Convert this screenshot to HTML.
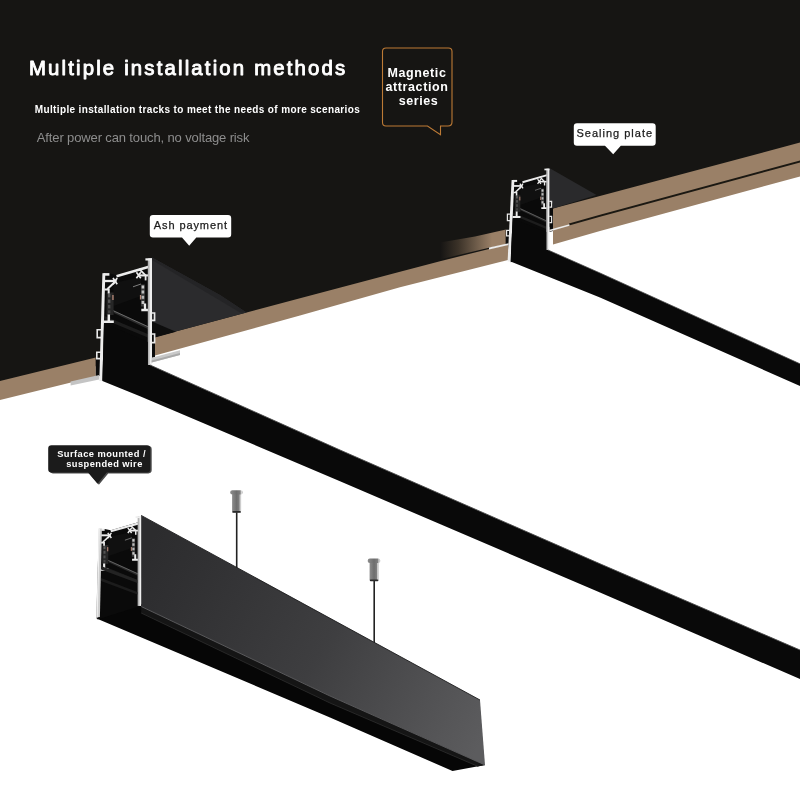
<!DOCTYPE html>
<html lang="en">
<head>
<meta charset="utf-8">
<title>Multiple installation methods</title>
<style>
html,body{margin:0;padding:0;background:#fff;}
body{width:800px;height:800px;overflow:hidden;position:relative;font-family:"Liberation Sans","DejaVu Sans",sans-serif;}
svg{position:absolute;left:0;top:0;display:block;will-change:transform;}
text{font-family:"Liberation Sans","DejaVu Sans",sans-serif;}
</style>
</head>
<body>
<svg width="800" height="800" viewBox="0 0 800 800">
<defs>
  <linearGradient id="gGroove" gradientUnits="userSpaceOnUse" x1="440" y1="0" x2="492" y2="0">
    <stop offset="0" stop-color="#151413"/>
    <stop offset="0.35" stop-color="#3b3228"/>
    <stop offset="1" stop-color="#9a8067"/>
  </linearGradient>
  <linearGradient id="gFace3" gradientUnits="userSpaceOnUse" x1="141" y1="560" x2="485" y2="735">
    <stop offset="0" stop-color="#2c2c2e"/>
    <stop offset="0.13" stop-color="#303032"/>
    <stop offset="0.52" stop-color="#3e3e40"/>
    <stop offset="0.9" stop-color="#565658"/>
    <stop offset="1" stop-color="#5c5c5e"/>
  </linearGradient>
  <linearGradient id="gHang" x1="0" y1="0" x2="1" y2="0">
    <stop offset="0" stop-color="#8c8c8c"/>
    <stop offset="0.5" stop-color="#6e6e6e"/>
    <stop offset="0.78" stop-color="#7e7e7e"/>
    <stop offset="0.9" stop-color="#d8d8d8"/>
    <stop offset="1" stop-color="#b8b8b8"/>
  </linearGradient>

  <!-- aluminium track cross-section, drawn in track-1 coordinates -->
  <g id="prof">
    <!-- interior -->
    <polygon points="103.8,273.4 109.4,273.4 116.5,275 148.4,265.6 148.4,259 151,259 151,365 101,381" fill="#0a0a0a"/>
    <!-- subtle interior bands -->
    <polygon points="113.5,283 141,277 141,296 113.5,306" fill="#101010"/>
    <polygon points="113.8,310.4 147.8,326.2 147.8,329 113.8,313" fill="#2a2a2a"/>
    <polygon points="104.5,316 147.8,334 147.8,337.5 104.5,319.5" fill="#1d1d1d"/>
    <line x1="113" y1="310.6" x2="147.8" y2="326.6" stroke="#8a8a8a" stroke-width="0.7"/>
    <!-- left inner rail -->
    <rect x="106.6" y="292.5" width="7" height="22.5" fill="#262626"/>
    <rect x="108" y="294" width="2.4" height="3.4" fill="#5b5b5b"/>
    <rect x="108" y="299.5" width="2.4" height="3.4" fill="#555"/>
    <rect x="108" y="305" width="2.4" height="3.4" fill="#4d4d4d"/>
    <rect x="108" y="310.3" width="2.4" height="3" fill="#444"/>
    <rect x="112.3" y="295" width="1.3" height="5" fill="#b98a7a"/>
    <!-- right inner rail -->
    <rect x="141" y="284.5" width="3.8" height="22" fill="#3a3a3a"/>
    <rect x="141.6" y="285.5" width="2.6" height="3" fill="#c9c9c9"/>
    <rect x="141.6" y="290.5" width="2.6" height="3" fill="#bdbdbd"/>
    <rect x="141.6" y="295.8" width="2.6" height="3" fill="#b5b5b5"/>
    <rect x="141.6" y="301" width="2.6" height="3" fill="#c4c4c4"/>
    <rect x="139.9" y="295" width="1.2" height="4.5" fill="#b98a7a"/>
    <line x1="133" y1="286.8" x2="141" y2="284" stroke="#7d7d7d" stroke-width="1"/>
    <!-- white profile lines -->
    <g fill="none" stroke="#ececec" stroke-linecap="butt" stroke-linejoin="miter">
      <!-- top-left -->
      <path d="M103.5,274.4 H109.4" stroke-width="2.6"/>
      <path d="M104.5,281 H116.5" stroke-width="2.3"/>
      <path d="M113,278 L117.2,284.2 M117.2,278 L113,284.2" stroke-width="1.7"/>
      <path d="M107.4,289 L114.6,282.2" stroke-width="1.9"/>
      <path d="M104.5,289.6 H109.6 M108.7,289 V293.4" stroke-width="2"/>
      <!-- top plate -->
      <path d="M116.5,276.2 L149,266.8" stroke-width="2.7"/>
      <!-- top-right -->
      <path d="M139.2,275.4 H149" stroke-width="2.1"/>
      <path d="M136.4,272.2 L140.8,278.2 M140.8,272.2 L136.4,278.2" stroke-width="1.7"/>
      <path d="M139.2,269 L145.6,275.4" stroke-width="1.8"/>
      <path d="M145.6,276 V280.4" stroke-width="1.8"/>
      <!-- lower hooks -->
      <path d="M145,303.6 V309.6 M141.3,310 H148.8" stroke-width="2.3"/>
      <path d="M108.8,314.6 V320.6 M103.5,321.8 H113.8" stroke-width="2.5"/>
    </g>
    <!-- right wall -->
    <rect x="147.8" y="258.3" width="2.2" height="106.7" fill="#b4b4b4"/>
    <rect x="149.6" y="258.3" width="2.4" height="106.7" fill="#efefef"/>
    <rect x="145.4" y="258.3" width="6.6" height="2.2" fill="#efefef"/>
  </g>
  <!-- outside clips for recessed tracks -->
  <g id="clips" fill="none" stroke="#e9e9e9" stroke-width="1.6">
    <path d="M102,329.8 H97.2 V337.6 H101.6"/>
    <path d="M101,352.3 H96.8 V358.6 H100.6"/>
    <path d="M152,313 H154.6 V320.4 H152"/>
    <path d="M152,334 H154.6 V342.6 H152"/>
  </g>
</defs>

<!-- ===== background ===== -->
<rect x="0" y="0" width="800" height="800" fill="#ffffff"/>
<polygon id="dark" points="0,0 800,0 800,160 553,225 508,250 152,345 102,365 0,385" fill="#161513"/>

<!-- ===== brown ceiling band ===== -->
<polygon points="0,381 95.8,357.5 95.8,376.5 71,382.6 0,400" fill="#9a8067"/>
<polygon points="155,337 300,298.3 400,271.8 440,261.2 489,249 508,244.6 510,259.4 500,261.9 400,287.3 300,315.6 155,355.6" fill="#9a8067"/>
<polygon points="553,208.6 800,142.5 800,176.4 600,231 553,244.4" fill="#9a8067"/>
<!-- raised piece + fading recess left of track 2 -->
<polygon points="440,242.6 475,236.6 506,229.4 506,244.4 489,247.8 440,259.4" fill="url(#gGroove)"/>
<!-- groove on right segment -->
<polygon points="569,223.4 600,214.8 800,160.4 800,162.4 600,216.8 569,225.4" fill="#1b1812"/>

<!-- ===== TRACK 1 ===== -->
<g id="track1">
  <!-- side face receding into the ceiling -->
  <polygon points="152,257.5 220,295 246.5,312.5 155,337 152,338" fill="#2b2b2d"/>
  <polygon points="152,257.5 220,295 246.5,312.5 240,312.6 152,260" fill="#242426"/>
  <polygon points="152,321.5 176,331.8 155,337.5 152,338" fill="#0e0e0e"/>
  <!-- dark gaps beside the profile -->
  <polygon points="95.8,357.5 101,356.2 100,376 95.8,376.5" fill="#0c0c0c"/>
  <polygon points="152,331 155,330.5 155,357 152,358" fill="#0c0c0c"/>
  <use href="#prof"/>
  <use href="#clips"/>
  <polygon points="102.4,273.2 105.3,273.2 102.4,381 99.3,381" fill="#ededed"/>
  <!-- lamp front face + long beam -->
  <polygon points="104,323 147.8,342 147.8,365 150,365 340,450 600,563.8 800,650 800,679 600,592.5 340,481.3 140,396.3 102.4,381" fill="#090909"/>
  <polyline points="150,365 340,450 600,563.8 800,650" fill="none" stroke="#4b4b4b" stroke-width="0.9"/>
  <!-- flanges -->
  <polygon points="70.6,381.6 99.2,375 99.2,379.6 70.6,385.4" fill="#c4c4c4"/>
  <polygon points="151.6,357.8 180,350.3 180,355 151.6,362.6" fill="#c9c9c9"/>
  <polygon points="151.6,360.6 180,353 180,355 151.6,362.6" fill="#a9a9a9"/>
</g>

<!-- ===== TRACK 2 ===== -->
<g id="track2">
  <polygon points="549.4,168 596.5,195 553,208.6 549.4,209.6" fill="#2a2a2c"/>
  <polygon points="505.6,229.8 510,229 509,245 505.6,245" fill="#0c0c0c"/>
  <polygon points="549.4,204 553,203.5 553,231 549.4,232" fill="#0c0c0c"/>
  <g transform="translate(434.25,-28.4) scale(0.7576,0.7628)">
    <use href="#prof"/>
  </g>
  <g fill="none" stroke="#e9e9e9" stroke-width="1.25">
    <path d="M511,214 H507.4 V220.6 H510.6"/>
    <path d="M510,230.4 H506.6 V235.8 H509.6"/>
    <path d="M549.4,201.4 H551.6 V207 H549.4"/>
    <path d="M549.4,216.4 H551.6 V222.6 H549.4"/>
  </g>
  <polygon points="511.6,180 514.4,180 510.6,261.5 507.6,261.5" fill="#ededed"/>
  <polygon points="512.7,218.5 546.3,232 546.3,250 548,250 600,273 800,363.8 800,386 600,297.5 510.6,261.5" fill="#090909"/>
  <polyline points="548,250 600,273 800,363.8" fill="none" stroke="#4b4b4b" stroke-width="0.8"/>
  <!-- thin sealing plate edges -->
  <polygon points="489,247.6 508.5,243.2 508.5,245 489,249.4" fill="#ececec"/>
  <polygon points="549.4,229.8 569.5,224.2 569.5,225.8 549.4,231.4" fill="#ececec"/>
</g>

<!-- ===== TRACK 3 (suspended) ===== -->
<g id="track3">
  <!-- wires + hangers -->
  <rect x="235.9" y="510" width="1.6" height="59" fill="#222222"/>
  <rect x="373.4" y="578" width="1.6" height="66" fill="#222222"/>
  <rect x="232.1" y="493" width="9" height="19.4" rx="1.6" fill="url(#gHang)"/>
  <rect x="232.3" y="511" width="8.6" height="1.8" rx="0.9" fill="#2a2a2a"/>
  <rect x="230.2" y="490.2" width="12.6" height="4.4" rx="2.1" fill="url(#gHang)"/>
  <rect x="369.6" y="561.4" width="9" height="19.4" rx="1.6" fill="url(#gHang)"/>
  <rect x="369.8" y="579.4" width="8.6" height="1.8" rx="0.9" fill="#2a2a2a"/>
  <rect x="367.7" y="558.6" width="12.6" height="4.4" rx="2.1" fill="url(#gHang)"/>
  <!-- bottom face -->
  <polygon points="97,592 141,604 485,765 452.5,771 330,717.5 96.6,618.5" fill="#060606"/>
  <!-- inside of the empty track below the profile -->
  <polygon points="98,560 140,570 140,607 97,596" fill="#0a0a0a"/>
  <g transform="translate(10.74,298.99) scale(0.8586,0.841)">
    <use href="#prof"/>
  </g>
  <!-- left wall is greyer and runs to the bottom lip -->
  <polygon points="98.7,528.6 101.9,528.6 99.9,617 96.5,617.6" fill="#cfcfcf"/>
  <polygon points="98.7,528.6 99.9,528.6 97.7,617.4 96.5,617.6" fill="#f0f0f0"/>
  <!-- extra dark-grey ledges visible inside -->
  <polygon points="101,566 137.4,580 137.4,583 101,569.4" fill="#232323"/>
  <polygon points="101,578 137.4,592 137.4,594.4 101,581" fill="#1c1c1c"/>
  <!-- side face -->
  <polygon points="141.2,515.4 480,700 485,765 330,696 141.2,606.5" fill="url(#gFace3)"/>
  <polyline points="141.2,515.4 480,700" fill="none" stroke="#1c1c1d" stroke-width="0.9"/>
  <polygon points="141.2,606.5 330,696 485,765 478,766.4 330,703 141.2,613" fill="#151515"/>
  <polyline points="141.2,613 330,703 478,766.4" fill="none" stroke="#2e2e2e" stroke-width="0.8"/>
  <polyline points="141.2,606.5 330,696 485,765" fill="none" stroke="#59595b" stroke-width="1"/>
</g>

<!-- ===== TEXT ===== -->
<text id="h1" x="28.9" y="74.5" font-size="20.4" font-weight="400" fill="#ffffff" stroke="#ffffff" stroke-width="0.9" stroke-linejoin="round" letter-spacing="2.15">Multiple installation methods</text>
<text id="s1" x="34.8" y="112.5" font-size="10" font-weight="700" fill="#ffffff" letter-spacing="0.36">Multiple installation tracks to meet the needs of more scenarios</text>
<text id="s2" x="36.8" y="142" font-size="13" font-weight="400" fill="#8d8d8d" letter-spacing="-0.13">After power can touch, no voltage risk</text>

<!-- ===== LABEL: Magnetic attraction series ===== -->
<path d="M386,48 H448.5 Q452,48 452,51.5 V122 Q452,126 448,126 H440.5 V134.8 L427.5,126 H386 Q382.5,126 382.5,122.5 V51.5 Q382.5,48 386,48 Z" fill="#161513" stroke="#bd7a35" stroke-width="1.1"/>
<g font-size="12.5" font-weight="700" fill="#ffffff" text-anchor="middle" letter-spacing="0.6">
  <text id="m1" x="417" y="77">Magnetic</text>
  <text id="m2" x="417" y="90.8">attraction</text>
  <text id="m3" x="418.5" y="104.8">series</text>
</g>

<!-- ===== LABEL: Sealing plate ===== -->
<path d="M577,123.2 H652.5 Q655.7,123.2 655.7,126.4 V142.5 Q655.7,145.7 652.5,145.7 H620.8 L613.2,154.3 L605,145.7 H577 Q573.8,145.7 573.8,142.5 V126.4 Q573.8,123.2 577,123.2 Z" fill="#ffffff"/>
<text id="l2" x="576.5" y="137.3" font-size="11" fill="#1c1c1c" stroke="#1c1c1c" stroke-width="0.25" letter-spacing="1">Sealing plate</text>

<!-- ===== LABEL: Ash payment ===== -->
<path d="M153,215 H228 Q231.2,215 231.2,218.2 V234.3 Q231.2,237.5 228,237.5 H196.3 L189.2,245.8 L182,237.5 H153 Q149.8,237.5 149.8,234.3 V218.2 Q149.8,215 153,215 Z" fill="#ffffff"/>
<text id="l1" x="153.8" y="228.8" font-size="11" fill="#1c1c1c" stroke="#1c1c1c" stroke-width="0.25" letter-spacing="0.9">Ash payment</text>

<!-- ===== LABEL: Surface mounted / suspended wire ===== -->
<path d="M51.5,445.2 H147 Q150.3,445.2 150.3,448.5 V469.2 Q150.3,472.5 147,472.5 H106.8 L97.5,483.8 L88,472.5 H51.5 Q48.2,472.5 48.2,469.2 V448.5 Q48.2,445.2 51.5,445.2 Z" fill="#4a4a4a" transform="translate(1.4,0.9)"/>
<path d="M51.5,445.2 H147 Q150.3,445.2 150.3,448.5 V469.2 Q150.3,472.5 147,472.5 H106.8 L97.5,483.8 L88,472.5 H51.5 Q48.2,472.5 48.2,469.2 V448.5 Q48.2,445.2 51.5,445.2 Z" fill="#1b1b1b"/>
<g font-size="9.3" font-weight="700" fill="#ffffff" letter-spacing="0.45">
  <text id="u1" x="57.2" y="456.8">Surface mounted /</text>
  <text id="u2" x="66.2" y="466.6">suspended wire</text>
</g>
</svg>
</body>
</html>
